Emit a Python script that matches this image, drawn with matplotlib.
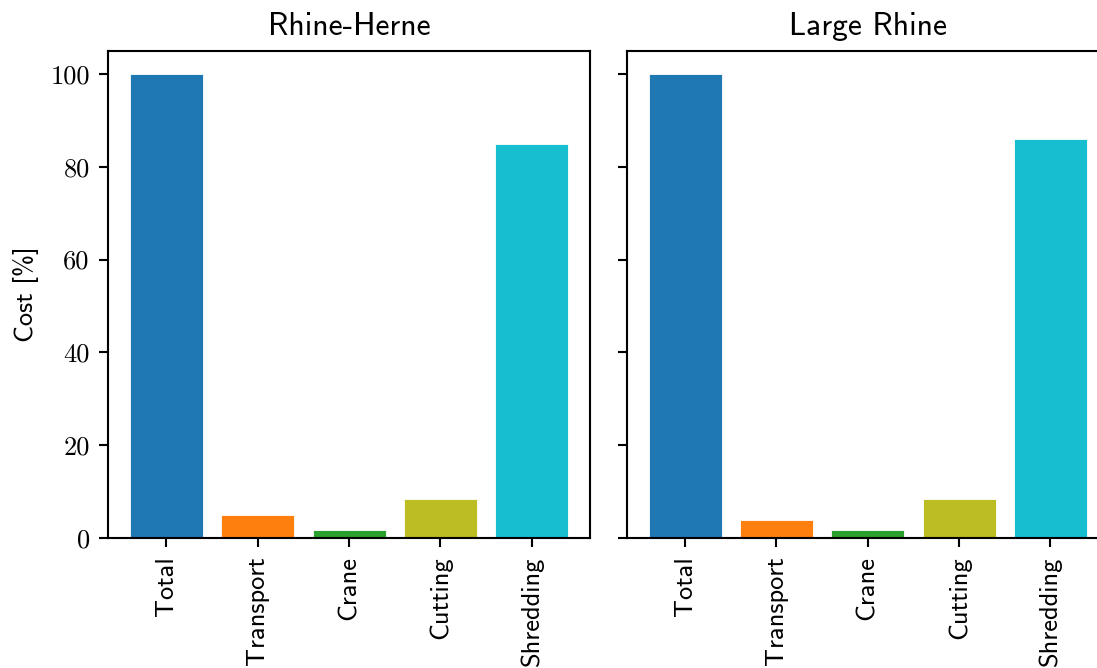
import numpy as np
import matplotlib
matplotlib.use("Agg")
import matplotlib.pyplot as plt

# Cost breakdown per river section, in percent of total
categories = ["Total", "Transport", "Crane", "Cutting", "Shredding"]
rhine_herne = [100.0, 5.0, 1.7, 8.4, 84.9]
large_rhine = [100.0, 3.9, 1.7, 8.5, 86.0]
titles = ["Rhine-Herne", "Large Rhine"]
yticks = [0, 20, 40, 60, 80, 100]

colors = ["tab:blue", "tab:orange", "tab:green", "tab:olive", "tab:cyan"]

plt.rcParams["font.family"] = ["cmss10", "DejaVu Sans"]
plt.rcParams["font.size"] = 9.5
plt.rcParams["axes.titlesize"] = 11.4
plt.rcParams["axes.titlepad"] = 5.7
plt.rcParams["axes.labelsize"] = 9.5
plt.rcParams["axes.linewidth"] = 0.76
plt.rcParams["xtick.major.size"] = 3.3
plt.rcParams["ytick.major.size"] = 3.3
plt.rcParams["xtick.major.width"] = 0.76
plt.rcParams["ytick.major.width"] = 0.76
plt.rcParams["xtick.major.pad"] = 3.3
plt.rcParams["ytick.major.pad"] = 3.3

fig = plt.figure(figsize=(5.485, 3.34), dpi=200)
ax1 = fig.add_axes([0.0985, 0.1946, 0.4394, 0.7295])
ax2 = fig.add_axes([0.5713, 0.1946, 0.4394, 0.7295], sharey=ax1)

for ax, values, title in zip([ax1, ax2], [rhine_herne, large_rhine], titles):
    x = np.arange(len(categories))
    ax.bar(x, values, color=colors, edgecolor="white", linewidth=0.3)
    ax.set_xticks(x)
    ax.set_xticklabels(categories, rotation=90)
    ax.set_title(title)

ax1.set_yticks(yticks)
ax1.set_yticklabels([str(v) for v in yticks], family="cmr10")
ax1.set_ylabel("Cost [%]")
ax2.tick_params(axis="y", labelleft=False)

fig.savefig("out.png", dpi=200)
